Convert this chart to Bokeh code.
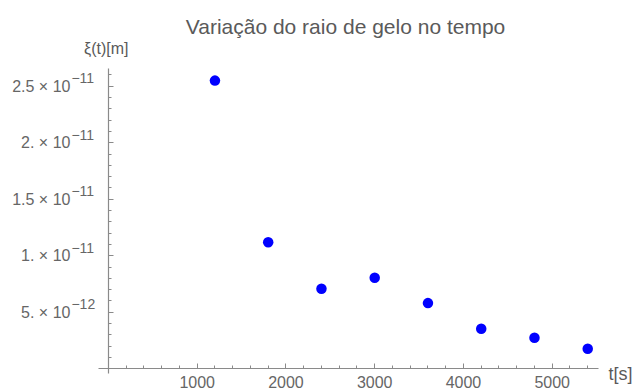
from bokeh.plotting import figure
from bokeh.models import LinearAxis, FixedTicker, Range1d, Label, ColumnDataSource
from bokeh.embed import file_html
from bokeh.resources import INLINE
from bokeh.core.properties import value

# ---- data ----
t_s = [1200, 1800, 2400, 3000, 3600, 4200, 4800, 5400]
xi_m = [25.5e-12, 11.2e-12, 7.08e-12, 8.05e-12, 5.81e-12, 3.54e-12, 2.74e-12, 1.77e-12]

x_major = [1000, 2000, 3000, 4000, 5000]
x_minor = [200, 400, 600, 800, 1200, 1400, 1600, 1800, 2200, 2400, 2600, 2800,
           3200, 3400, 3600, 3800, 4200, 4400, 4600, 4800, 5200, 5400]
y_major = [5e-12, 1e-11, 1.5e-11, 2e-11, 2.5e-11]
y_minor = [k * 1e-12 for k in range(1, 27) if k % 5 != 0]
y_mantissa = ["5. × 10", "1. × 10", "1.5 × 10", "2. × 10", "2.5 × 10"]
y_exponent = ["−12", "−11", "−11", "−11", "−11"]

title_text = "Variação do raio de gelo no tempo"
x_label = "t[s]"
y_label = "ξ(t)[m]"

FONT = "Liberation Sans"
TXT = "#666666"
AX = "#8a8a8a"

p = figure(width=642, height=392, output_backend="svg", toolbar_location=None,
           x_range=Range1d(-1216, 6017), y_range=Range1d(-2.10e-12, 32.59e-12),
           x_axis_location=None, y_axis_location=None, min_border=0,
           outline_line_color=None, background_fill_color="white")
p.grid.visible = False

xaxis = LinearAxis(fixed_location=0, bounds=(-112, 5521),
                   ticker=FixedTicker(ticks=x_major, minor_ticks=x_minor),
                   axis_line_color=AX, axis_line_width=1.2,
                   major_tick_line_color=AX, minor_tick_line_color=AX,
                   major_tick_in=5, major_tick_out=0, minor_tick_in=3, minor_tick_out=0,
                   major_label_standoff=7, major_label_text_font_size="16px",
                   major_label_text_font=FONT, major_label_text_color=TXT)
p.add_layout(xaxis, "below")

yaxis = LinearAxis(fixed_location=0, bounds=(-0.42e-12, 26.6e-12),
                   ticker=FixedTicker(ticks=y_major, minor_ticks=y_minor),
                   axis_line_color=AX, axis_line_width=1.2,
                   major_tick_line_color=AX, minor_tick_line_color=AX,
                   major_tick_in=5, major_tick_out=0, minor_tick_in=3, minor_tick_out=0,
                   major_label_standoff=38, major_label_text_font_size="16px",
                   major_label_text_font=FONT, major_label_text_color=TXT,
                   major_label_overrides={v: m for v, m in zip(y_major, y_mantissa)})
p.add_layout(yaxis, "left")

exp_src = ColumnDataSource(dict(x=[0] * len(y_major), y=y_major, text=y_exponent))
p.text(x="x", y="y", text="text", source=exp_src, x_offset=-37, y_offset=-8,
       text_align="left", text_baseline="middle", text_font_size="14px",
       text_font=value(FONT), text_color=TXT)

p.scatter(t_s, xi_m, size=10.5, color="#0000ff", line_color=None)

p.add_layout(Label(x=2671, y=30.29e-12, text=title_text, text_align="center",
                   text_baseline="alphabetic", text_font_size="21px",
                   text_font=FONT, text_color="#5a5a5a"))
p.add_layout(Label(x=-24, y=28.3e-12, text=y_label, text_align="center",
                   text_baseline="alphabetic", text_font_size="16px",
                   text_font=FONT, text_color="#5a5a5a"))
p.add_layout(Label(x=5634, y=-0.5e-12, text=x_label, text_align="left",
                   text_baseline="alphabetic", text_font_size="18px",
                   text_font=FONT, text_color="#5a5a5a"))

open("out.html", "w").write(file_html(p, INLINE))
